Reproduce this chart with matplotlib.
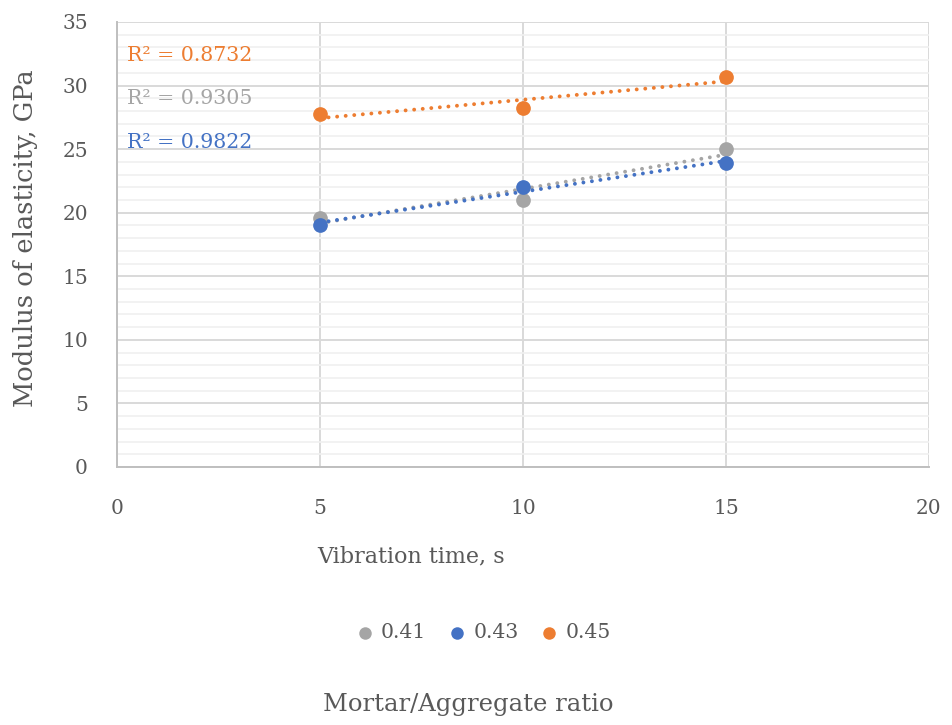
import numpy as np
import matplotlib.pyplot as plt
from matplotlib.ticker import MultipleLocator

plt.rcParams['font.family'] = ['DejaVu Serif']

# data
vib_time = [5, 10, 15]
series_names = ['0.41', '0.43', '0.45']
modulus_041 = [19.6, 21.0, 25.0]
modulus_043 = [19.05, 22.0, 23.9]
modulus_045 = [27.75, 28.25, 30.65]
r2_labels = ['R² = 0.9305', 'R² = 0.9822', 'R² = 0.8732']
r2_pos = [(0.25, 29.0), (0.25, 25.5), (0.25, 32.4)]
colors = ['#A5A5A5', '#4472C4', '#ED7D31']
text_col = '#595959'

fig = plt.figure(figsize=(9.52, 7.25), dpi=100)
ax = fig.add_axes([0.1229, 0.3559, 0.8529, 0.6138])

all_series = [modulus_041, modulus_043, modulus_045]
for i, (vals, col) in enumerate(zip(all_series, colors)):
    x = np.array(vib_time, dtype=float)
    y = np.array(vals)
    k, b = np.polyfit(x, y, 1)
    ax.plot(x, k * x + b, color=col, lw=2.8, linestyle=(0, (0.01, 2.2)),
            zorder=3 + i, dash_capstyle='round')
    ax.scatter(x, y, s=112, color=col, zorder=4 + i, label=series_names[i],
               linewidths=0)

for lab, pos, col in zip(r2_labels, r2_pos, colors):
    ax.text(pos[0], pos[1], lab, color=col, fontsize=14.8, ha='left', va='center')

ax.set_xlim(0, 20)
ax.set_ylim(0, 35)
ax.xaxis.set_major_locator(MultipleLocator(5))
ax.yaxis.set_major_locator(MultipleLocator(5))
ax.yaxis.set_minor_locator(MultipleLocator(1))
ax.grid(which='major', color='#D9D9D9', lw=1.4, zorder=0)
ax.grid(which='minor', axis='y', color='#F0F0F0', lw=1.2, zorder=0)
ax.set_axisbelow(True)
for s in ['top', 'right']:
    ax.spines[s].set_visible(False)
for s in ['left', 'bottom']:
    ax.spines[s].set_color('#BFBFBF')
    ax.spines[s].set_linewidth(1.4)
ax.tick_params(which='both', length=0, labelsize=14.5, labelcolor=text_col)
ax.tick_params(axis='x', pad=23)
ax.tick_params(axis='y', pad=21)

ax.set_xlabel('Vibration time, s', fontsize=16, color=text_col)
ax.xaxis.set_label_coords(0.362, -0.176)
ax.set_ylabel('Modulus of elasticity, GPa', fontsize=18.5, color=text_col)
ax.yaxis.set_label_coords(-0.097, 0.515)

leg = fig.legend(loc='center', bbox_to_anchor=(0.507, 0.127), ncol=3, frameon=False,
                 fontsize=14.7, handlelength=1.0, handletextpad=0.3,
                 columnspacing=1.0, markerscale=0.85, labelcolor=text_col)
fig.text(0.492, 0.028, 'Mortar/Aggregate ratio', fontsize=17.5, color=text_col,
         ha='center', va='center')

fig.savefig('out.png', dpi=100)
